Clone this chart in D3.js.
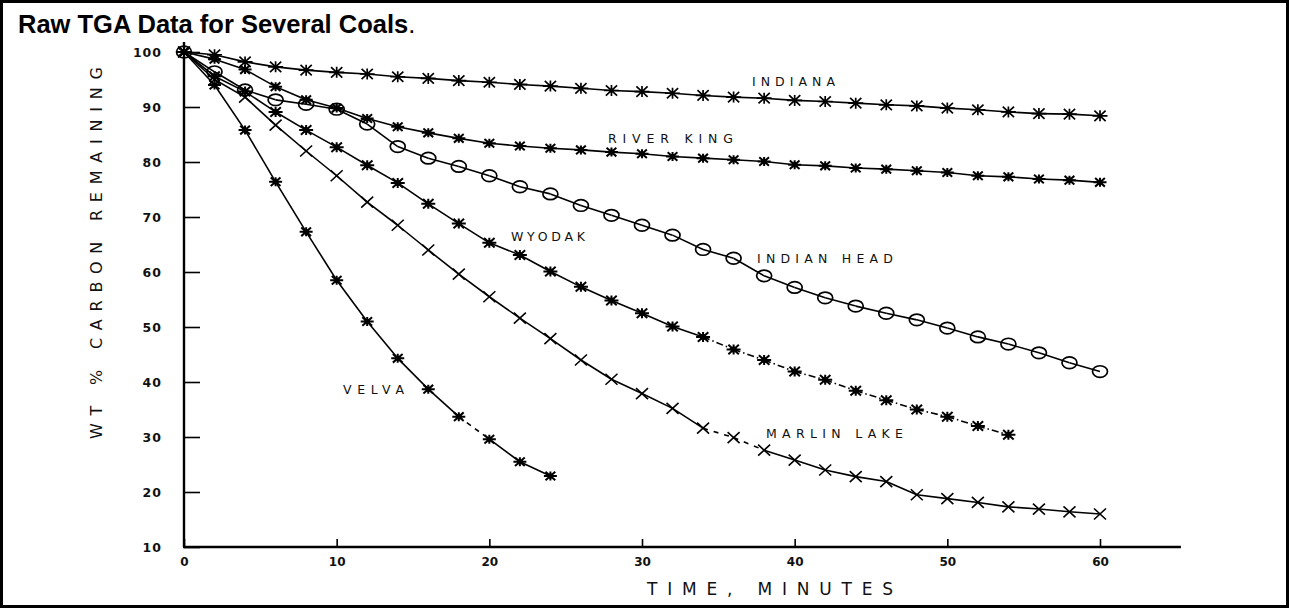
<!DOCTYPE html>
<html>
<head>
<meta charset="utf-8">
<script src="https://cdn.jsdelivr.net/npm/d3@7"></script>
<style>
  html, body { margin: 0; padding: 0; background: #fff; }
  svg { display: block; }
</style>
</head>
<body>
<svg id="chart" width="1289" height="609"></svg>
<script>
// ---------------- DATA ----------------
const timeFull = [0,2,4,6,8,10,12,14,16,18,20,22,24,26,28,30,32,34,36,38,40,42,44,46,48,50,52,54,56,58,60];
const timeWyodak = [0,2,4,6,8,10,12,14,16,18,20,22,24,26,28,30,32,34,36,38,40,42,44,46,48,50,52,54];
const timeVelva = [0,2,4,6,8,10,12,14,16,18,20,22,24];

const indiana = [100,99.5,98.2,97.3,96.7,96.3,96.0,95.5,95.2,94.8,94.5,94.1,93.8,93.4,93.0,92.8,92.5,92.1,91.8,91.6,91.2,91.0,90.7,90.4,90.2,89.8,89.5,89.1,88.8,88.7,88.4];
const riverKing = [100,98.7,96.8,93.7,91.3,89.8,87.9,86.4,85.3,84.3,83.4,82.9,82.5,82.2,81.8,81.5,81.0,80.7,80.4,80.1,79.5,79.3,78.9,78.7,78.4,78.1,77.5,77.3,76.9,76.7,76.3];
const indianHead = [100,96.4,93.1,91.3,90.5,89.6,86.9,82.8,80.7,79.2,77.5,75.5,74.2,72.1,70.3,68.5,66.7,64.1,62.5,59.3,57.2,55.3,53.8,52.5,51.3,49.8,48.2,46.9,45.3,43.5,41.9];
const wyodak = [100,95.6,92.8,89.1,85.8,82.7,79.4,76.2,72.4,68.8,65.3,63.1,60.1,57.3,54.8,52.5,50.1,48.2,45.9,44.0,41.9,40.4,38.4,36.7,35.0,33.7,32.0,30.4];
const marlinLake = [100,95.0,91.8,86.7,82.0,77.5,72.7,68.5,64.0,59.6,55.5,51.6,47.9,44.0,40.5,37.9,35.2,31.6,29.9,27.6,25.8,24.0,22.8,21.9,19.5,18.8,18.1,17.3,16.9,16.4,16.0];
const velva = [100,94.0,85.8,76.4,67.3,58.5,51.0,44.3,38.7,33.7,29.6,25.5,22.9];

const seriesNames = ["INDIANA","RIVER KING","INDIAN HEAD","WYODAK","MARLIN LAKE","VELVA"];
const xTickValues = [0,10,20,30,40,50,60];
const yTickValues = [10,20,30,40,50,60,70,80,90,100];
const xTitle = "TIME, MINUTES";
const yTitle = "WT % CARBON REMAINING";
const chartTitle = "Raw TGA Data for Several Coals";

// ---------------- LAYOUT ----------------
const svg = d3.select("#chart");
const x = d3.scaleLinear().domain([0, 60]).range([184, 1100]);
const y = d3.scaleLinear().domain([10, 100]).range([547, 52]);

// frame
svg.append("rect").attr("x", 1.5).attr("y", 1.5).attr("width", 1286).attr("height", 605)
  .attr("fill", "#fff").attr("stroke", "#000").attr("stroke-width", 3);

// title
const t = svg.append("text").attr("x", 18).attr("y", 33)
  .attr("font-family", "Liberation Sans, Arial, sans-serif").attr("font-size", 25.5).attr("fill", "#000");
t.append("tspan").attr("font-weight", "bold").text(chartTitle);
t.append("tspan").text(".");

// axes
const axisG = svg.append("g");
const yAxis = d3.axisLeft(y).tickValues(yTickValues).tickSize(-16).tickPadding(22).tickSizeOuter(0);
const yg = axisG.append("g").attr("transform", `translate(${x(0)},0)`).call(yAxis);
yg.select(".domain").remove();
yg.selectAll(".tick line").attr("stroke", "#000").attr("stroke-width", 1.6);
yg.selectAll(".tick text").attr("font-family", "DejaVu Sans, sans-serif").attr("font-size", 12.5)
  .attr("font-weight", "bold").attr("letter-spacing", 1).attr("fill", "#111");

const xAxis = d3.axisBottom(x).tickValues(xTickValues).tickSize(-8).tickPadding(10).tickSizeOuter(0);
const xg = axisG.append("g").attr("transform", `translate(0,${y(10)})`).call(xAxis);
xg.select(".domain").remove();
xg.selectAll(".tick line").attr("stroke", "#000").attr("stroke-width", 1.6);
xg.selectAll(".tick text").attr("font-family", "DejaVu Sans, sans-serif").attr("font-size", 12)
  .attr("font-weight", "bold").attr("fill", "#111");

// axis lines
axisG.append("line").attr("x1", x(0)).attr("x2", x(0)).attr("y1", y(10)).attr("y2", y(101.8))
  .attr("stroke", "#000").attr("stroke-width", 2.4);
axisG.append("line").attr("x1", x(0) - 1).attr("x2", x(65.3)).attr("y1", y(10)).attr("y2", y(10))
  .attr("stroke", "#000").attr("stroke-width", 2.4);

// axis titles
svg.append("text").attr("x", 770).attr("y", 595).attr("text-anchor", "middle")
  .attr("font-family", "DejaVu Sans, sans-serif").attr("font-size", 17)
  .attr("textLength", 246).attr("lengthAdjust", "spacing").attr("fill", "#111").text(xTitle);
svg.append("text").attr("transform", "translate(102,253) rotate(-90)").attr("text-anchor", "middle")
  .attr("font-family", "DejaVu Sans, sans-serif").attr("font-size", 16)
  .attr("textLength", 372).attr("lengthAdjust", "spacing").attr("fill", "#111").text(yTitle);

// ---------------- SERIES ----------------
function starPath(hw, hh) {
  const dw = hw * 0.75, dh = hh * 0.95;
  return `M${-hw},0L${hw},0M0,${-hh}L0,${hh}M${-dw},${-dh}L${dw},${dh}M${-dw},${dh}L${dw},${-dh}`;
}
const markers = {
  bigStar: { d: starPath(7.5, 5.5), sw: 1.7, dot: 1.6 },
  smallStar: { d: starPath(6.5, 4.5), sw: 2.0, dot: 2.6 },
  midStar: { d: starPath(7, 5), sw: 2.0, dot: 3 },
  cross: { d: "M-6,-5.5L6,5.5M-6,5.5L6,-5.5", sw: 1.6, dot: 0 },
  circle: { ellipse: true }
};

const series = [
  { name: seriesNames[0], t: timeFull, v: indiana, marker: "bigStar", dash: [], label: [752, 86, 83] },
  { name: seriesNames[1], t: timeFull, v: riverKing, marker: "smallStar", dash: [], label: [608, 143, 125] },
  { name: seriesNames[2], t: timeFull, v: indianHead, marker: "circle", dash: [], label: [757, 263, 136] },
  { name: seriesNames[3], t: timeWyodak, v: wyodak, marker: "midStar", dash: [[34, 54, "7,3,1.5,3"]], label: [511, 241, 74] },
  { name: seriesNames[4], t: timeFull, v: marlinLake, marker: "cross", dash: [[34, 38, "5,6"]], label: [766, 438, 137] },
  { name: seriesNames[5], t: timeVelva, v: velva, marker: "smallStar", dash: [[18, 20, "5,5"]], label: [343, 394, 61] }
];

const line = d3.line().x(d => x(d[0])).y(d => y(d[1]));
const gLines = svg.append("g");
const gMarks = svg.append("g");

series.forEach(s => {
  const pts = s.t.map((tt, i) => [tt, s.v[i]]);
  for (let i = 0; i < pts.length - 1; i++) {
    const a = pts[i], b = pts[i + 1];
    let dash = null;
    s.dash.forEach(([from, to, pat]) => { if (a[0] >= from && b[0] <= to) dash = pat; });
    gLines.append("path").attr("d", line([a, b])).attr("fill", "none").attr("stroke", "#000")
      .attr("stroke-width", 1.6).attr("stroke-dasharray", dash);
  }
  const m = markers[s.marker];
  pts.forEach(p => {
    const g = gMarks.append("g").attr("transform", `translate(${x(p[0])},${y(p[1])})`);
    if (m.ellipse) {
      g.append("ellipse").attr("rx", 7.5).attr("ry", 5.8).attr("fill", "none")
        .attr("stroke", "#000").attr("stroke-width", 1.7);
    } else {
      g.append("path").attr("d", m.d).attr("stroke", "#000").attr("stroke-width", m.sw)
        .attr("fill", "none");
      if (m.dot) g.append("circle").attr("r", m.dot).attr("fill", "#000");
    }
  });
  svg.append("text").attr("x", s.label[0]).attr("y", s.label[1])
    .attr("font-family", "DejaVu Sans, sans-serif").attr("font-size", 12.5)
    .attr("textLength", s.label[2]).attr("lengthAdjust", "spacing").attr("fill", "#111").text(s.name);
});
</script>
</body>
</html>
